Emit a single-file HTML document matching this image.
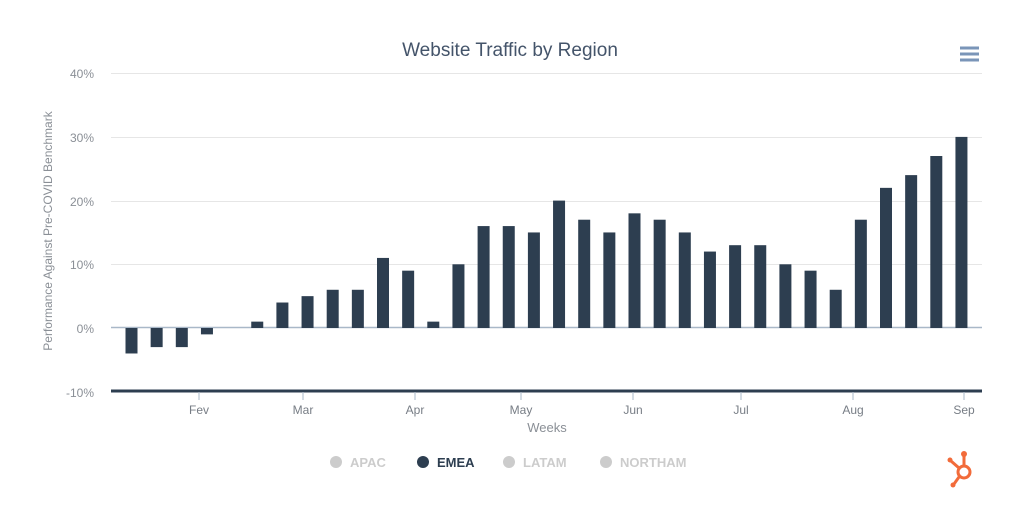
<!DOCTYPE html>
<html><head><meta charset="utf-8"><style>
body{margin:0;background:#fff;}
svg{display:block;font-family:"Liberation Sans",sans-serif;}
</style></head><body>
<svg width="1024" height="518" viewBox="0 0 1024 518">
<rect width="1024" height="518" fill="#fff"/>
<text x="510" y="56" text-anchor="middle" font-size="19" fill="#44546a">Website Traffic by Region</text>
<g stroke="#7a95b8" stroke-width="3"><line x1="960" y1="48" x2="979" y2="48"/><line x1="960" y1="54" x2="979" y2="54"/><line x1="960" y1="60" x2="979" y2="60"/></g>
<g stroke="#e6e6e6" stroke-width="1">
<line x1="111" y1="73.5" x2="982" y2="73.5"/><line x1="111" y1="137.5" x2="982" y2="137.5"/><line x1="111" y1="201.5" x2="982" y2="201.5"/><line x1="111" y1="264.5" x2="982" y2="264.5"/>
</g>
<line x1="111" y1="327.5" x2="982" y2="327.5" stroke="#a9b8c8" stroke-width="1.5"/>
<g font-size="12" fill="#8a8f96" text-anchor="end">
<text x="94" y="78">40%</text><text x="94" y="142">30%</text><text x="94" y="206">20%</text><text x="94" y="269">10%</text><text x="94" y="333">0%</text><text x="94" y="397">-10%</text>
</g>
<text transform="translate(52,231) rotate(-90)" text-anchor="middle" font-size="12" fill="#8a8f96">Performance Against Pre-COVID Benchmark</text>
<g id="bars" fill="#2d3e50"></g>
<line x1="111" y1="391" x2="982" y2="391" stroke="#2d3e50" stroke-width="3"/>
<g stroke="#a9b8c8" stroke-width="1">
<line x1="199" y1="392" x2="199" y2="400"/><line x1="303" y1="392" x2="303" y2="400"/><line x1="415" y1="392" x2="415" y2="400"/><line x1="521" y1="392" x2="521" y2="400"/><line x1="633" y1="392" x2="633" y2="400"/><line x1="741" y1="392" x2="741" y2="400"/><line x1="853" y1="392" x2="853" y2="400"/><line x1="964" y1="392" x2="964" y2="400"/>
</g>
<g font-size="12" fill="#777d85" text-anchor="middle">
<text x="199" y="414">Fev</text><text x="303" y="414">Mar</text><text x="415" y="414">Apr</text><text x="521" y="414">May</text><text x="633" y="414">Jun</text><text x="741" y="414">Jul</text><text x="853" y="414">Aug</text><text x="964" y="414">Sep</text>
</g>
<text x="547" y="432" text-anchor="middle" font-size="13" fill="#8a8f96">Weeks</text>
<g font-size="13" font-weight="bold">
<circle cx="336" cy="462" r="6" fill="#cccccc"/><text x="350" y="467" fill="#cccccc">APAC</text>
<circle cx="423" cy="462" r="6" fill="#2d3e50"/><text x="437" y="467" fill="#2d3e50">EMEA</text>
<circle cx="509" cy="462" r="6" fill="#cccccc"/><text x="523" y="467" fill="#cccccc">LATAM</text>
<circle cx="606" cy="462" r="6" fill="#cccccc"/><text x="620" y="467" fill="#cccccc">NORTHAM</text>
</g>
<g stroke="#f26b3a" stroke-width="3" fill="none">
<circle cx="964" cy="472" r="6"/><line x1="964" y1="466" x2="964" y2="455"/><line x1="959" y1="468" x2="951" y2="461"/><line x1="959" y1="477" x2="954" y2="484"/>
</g>
<circle cx="964" cy="454" r="3" fill="#f26b3a"/><circle cx="950" cy="460" r="2.5" fill="#f26b3a"/><circle cx="953" cy="485" r="2.5" fill="#f26b3a"/>
</svg>
<script>
var v=[-4,-3,-3,-1,0,1,4,5,6,6,11,9,1,10,16,16,15,20,17,15,18,17,15,12,13,13,10,9,6,17,22,24,27,30];
var g=document.getElementById('bars'),s='';
for(var i=0;i<v.length;i++){var cx=131.5+i*25.15,h=Math.abs(v[i])*6.37;if(!h)continue;
var y=v[i]>0?328-h:328;s+='<rect x="'+(cx-6)+'" y="'+y+'" width="12" height="'+h+'"/>';}
g.innerHTML=s;
</script>
</body></html>
